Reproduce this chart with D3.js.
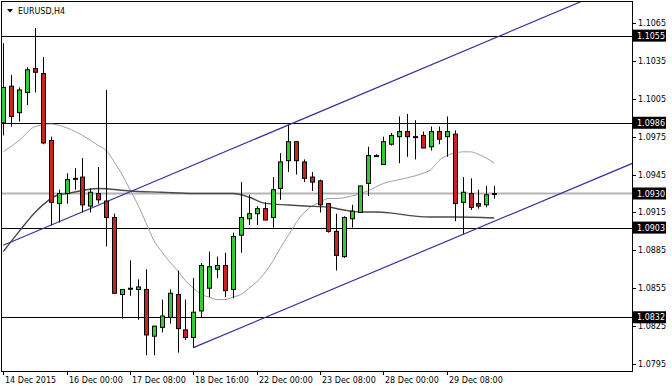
<!DOCTYPE html>
<html><head><meta charset="utf-8">
<script src="https://cdn.jsdelivr.net/npm/d3@7"></script>
<style>
html,body{margin:0;padding:0;background:#fff;}
svg{display:block;font-family:"DejaVu Sans",Tahoma,sans-serif;}
</style></head>
<body><svg id="c" width="672" height="389"></svg>
<script>
// ---- data (EURUSD H4) ----
const openP  = [1.0986,1.1015,1.0994,1.1010,1.1029,1.1025,1.0972,1.0922,1.0930,1.0942,1.0943,1.0920,1.0930,1.0924,1.0911,1.0850,1.0855,1.0854,1.0854,1.0817,1.0824,1.0832,1.0850,1.0822,1.0816,1.0837,1.0855,1.0870,1.0873,1.0854,1.0897,1.0910,1.0914,1.0918,1.0911,1.0934,1.0956,1.0971,1.0955,1.0943,1.0940,1.0922,1.0900,1.0880,1.0910,1.0915,1.0938,1.0960,1.0953,1.0969,1.0975,1.0979,1.0975,1.0976,1.0967,1.0979,1.0975,1.0977,1.0923,1.0930,1.0922,1.0921,1.0930];
const highP  = [1.1049,1.1024,1.1014,1.1030,1.1061,1.1038,1.0975,1.0933,1.0946,1.0950,1.0958,1.0934,1.0951,1.1012,1.0914,1.0854,1.0877,1.0862,1.0870,1.0825,1.0846,1.0854,1.0869,1.0846,1.0863,1.0875,1.0884,1.0880,1.0883,1.0899,1.0939,1.0929,1.0920,1.0923,1.0943,1.0962,1.0984,1.0971,1.0957,1.0947,1.0941,1.0922,1.0914,1.0912,1.0921,1.0936,1.0967,1.0961,1.0975,1.0978,1.0991,1.0993,1.0988,1.0979,1.0983,1.0983,1.0991,1.0980,1.0943,1.0942,1.0933,1.0936,1.0936];
const lowP   = [1.0976,1.0983,1.0987,1.1000,1.1010,1.0969,1.0905,1.0907,1.0922,1.0933,1.0915,1.0915,1.0922,1.0888,1.0851,1.0831,1.0849,1.0830,1.0802,1.0802,1.0820,1.0827,1.0804,1.0814,1.0808,1.0832,1.0848,1.0863,1.0848,1.0847,1.0883,1.0905,1.0905,1.0909,1.0903,1.0925,1.0947,1.0945,1.0939,1.0932,1.0915,1.0899,1.0869,1.0879,1.0903,1.0915,1.0928,1.0959,1.0953,1.0968,1.0954,1.0959,1.0957,1.0966,1.0964,1.0969,1.0959,1.0908,1.0898,1.0917,1.0918,1.0919,1.0926];
const closeP = [1.1014,1.0991,1.1012,1.1028,1.1026,1.0970,1.0923,1.0930,1.0941,1.0942,1.0921,1.0931,1.0925,1.0911,1.0851,1.0854,1.0855,1.0856,1.0818,1.0825,1.0833,1.0851,1.0823,1.0816,1.0836,1.0873,1.0872,1.0873,1.0853,1.0896,1.0911,1.0914,1.0918,1.0909,1.0933,1.0955,1.0971,1.0956,1.0942,1.0939,1.0921,1.0900,1.0881,1.0911,1.0916,1.0936,1.0960,1.0960,1.0971,1.0976,1.0979,1.0975,1.0975,1.0966,1.0979,1.0973,1.0979,1.0922,1.0931,1.0919,1.0920,1.0929,1.0930];

const fastMaBars = [0,2,4,6,8,10,12,13,14,15,16,17,18,19,20,21,22,23,24,25,26,27,28,29,30,31,32,33,34,35,36,37,38,39,40,41,42,44,46,48,50,52,53,54,55,56,57,58,59,60,61,62];
const fastMaVals = [1.0963,1.0972,1.0983,1.0985,1.0982,1.0976,1.0968,1.0964,1.0955,1.0945,1.0933,1.0921,1.0907,1.0893,1.0884,1.0876,1.0869,1.0861,1.0855,1.0850,1.0848,1.0846,1.0846,1.0848,1.0850,1.0855,1.0860,1.0867,1.0876,1.0887,1.0897,1.0907,1.0915,1.0920,1.0923,1.0926,1.0926,1.0928,1.0932,1.0938,1.0941,1.0944,1.0946,1.0949,1.0956,1.0960,1.0962,1.0963,1.0963,1.0961,1.0958,1.0954];

const slowMaBars = [0,2,4,5,6,7,8,12,16,20,24,26,29,31,33,36,38,41,43,45,47,49,52,54,57,62];
const slowMaVals = [1.0884,1.0900,1.0915,1.0921,1.0926,1.0929,1.0930,1.0934,1.0932,1.0931,1.0930,1.0930,1.0930,1.09272,1.09224,1.09209,1.09201,1.09193,1.09169,1.09153,1.09153,1.09145,1.09121,1.09114,1.09114,1.09106];

const levels = [1.1055, 1.0986, 1.0903, 1.0832];
const currentPrice = 1.0930;
const priceTicks = [1.1065,1.1035,1.1005,1.0975,1.0945,1.0915,1.0885,1.0855,1.0825,1.0795];

const timeTickBars = [0,8,16,24,32,40,48,56];
const timeTickLabels = ["14 Dec 2015","16 Dec 00:00","17 Dec 08:00","18 Dec 16:00","22 Dec 00:00","23 Dec 08:00","28 Dec 00:00","29 Dec 08:00"];

// channel: lower line anchored on two points, upper parallel line anchored on two points
const lowerChannelBars = [24, 62];
const lowerChannelVals = [1.0808, 1.0908];
const upperChannelBars = [0, 62];
const upperChannelVals = [1.0889, 1.1053];

const title = "EURUSD,H4";

// ---- layout ----
const svg = d3.select("#c");
const L = 1, R = 632, T = 1, B = 371;
const x = d3.scaleLinear().domain([0, 62]).range([3.3, 494.3]);
const y = d3.scaleLinear().domain([1.0795, 1.1065]).range([364, 23]);

svg.append("defs").append("clipPath").attr("id","clip")
  .append("rect").attr("x",L).attr("y",T).attr("width",R-L).attr("height",B-T);

const plot = svg.append("g").attr("clip-path","url(#clip)");

// horizontal levels
plot.selectAll("line.lev").data(levels).enter().append("line")
  .attr("x1",L).attr("x2",R).attr("y1",d=>Math.round(y(d))+0.5).attr("y2",d=>Math.round(y(d))+0.5)
  .attr("stroke","#000").attr("stroke-width",1);

// current price line
plot.append("line").attr("x1",L).attr("x2",R)
  .attr("y1",y(currentPrice)).attr("y2",y(currentPrice))
  .attr("stroke","#b4b4b4").attr("stroke-width",2);

// moving averages
const lineGen = d3.line().x(d=>x(d[0])).y(d=>y(d[1])).curve(d3.curveMonotoneX);
plot.append("path").datum(fastMaBars.map((b,i)=>[b,fastMaVals[i]]))
  .attr("d",lineGen).attr("fill","none").attr("stroke","#a0a0a0").attr("stroke-width",1);
plot.append("path").datum(slowMaBars.map((b,i)=>[b,slowMaVals[i]]))
  .attr("d",lineGen).attr("fill","none").attr("stroke","#4a4a4a").attr("stroke-width",1.4);

// channel lines (rays)
function ray(bars, vals, extendLeft) {
  const slope = (vals[1]-vals[0])/(bars[1]-bars[0]);
  const b0 = bars[0], b1 = bars[0] + 200;
  return [[x(b0), y(vals[0])], [x(b1), y(vals[0] + slope*(b1-b0))]];
}
[[lowerChannelBars,lowerChannelVals],[upperChannelBars,upperChannelVals]].forEach(([b,v])=>{
  const p = ray(b,v);
  plot.append("line").attr("x1",p[0][0]).attr("y1",p[0][1]).attr("x2",p[1][0]).attr("y2",p[1][1])
    .attr("stroke","#33339a").attr("stroke-width",1.2);
});

// candles
const bars = openP.map((o,i)=>({i,o,h:highP[i],l:lowP[i],c:closeP[i]}));
const cg = plot.selectAll("g.candle").data(bars).enter().append("g");
cg.append("line")
  .attr("x1",d=>Math.round(x(d.i))+0.5).attr("x2",d=>Math.round(x(d.i))+0.5)
  .attr("y1",d=>y(d.h)).attr("y2",d=>y(d.l)).attr("stroke","#000").attr("stroke-width",1);
cg.append("rect")
  .attr("x",d=>Math.round(x(d.i))-2+0.5)
  .attr("width",4)
  .attr("y",d=>Math.min(y(d.o),y(d.c)))
  .attr("height",d=>Math.max(1,Math.abs(y(d.o)-y(d.c))))
  .attr("fill",d=>d.c>d.o?"#33cc33":(d.c<d.o?"#cc2222":"#000"))
  .attr("stroke","#000").attr("stroke-width",1);

// frame
svg.append("rect").attr("x",L+0.5).attr("y",T+0.5).attr("width",R-L).attr("height",B-T)
  .attr("fill","none").attr("stroke","#000").attr("stroke-width",1);

// right axis
const ax = svg.append("g");
ax.selectAll("line.t").data(priceTicks).enter().append("line")
  .attr("x1",R).attr("x2",R+4).attr("y1",d=>Math.round(y(d))+0.5).attr("y2",d=>Math.round(y(d))+0.5)
  .attr("stroke","#000");
ax.selectAll("text.t").data(priceTicks).enter().append("text")
  .attr("x",R+6).attr("y",d=>y(d)+3).attr("font-size","8px").attr("fill","#000").text(d=>d.toFixed(4));

const hl = levels.concat([currentPrice]);
const hg = ax.selectAll("g.h").data(hl).enter().append("g");
hg.append("rect").attr("x",R+1).attr("width",33).attr("y",d=>y(d)-6).attr("height",12).attr("fill","#000");
hg.append("text").attr("x",R+5).attr("y",d=>y(d)+3).attr("font-size","8px").attr("fill","#fff").text(d=>d.toFixed(4));

// bottom axis
const bx = svg.append("g");
timeTickBars.forEach((b,k)=>{
  const xx = Math.round(x(b))+0.5;
  bx.append("line").attr("x1",xx).attr("x2",xx).attr("y1",B).attr("y2",B+4).attr("stroke","#000");
  bx.append("text").attr("x",xx+1.5).attr("y",B+12).attr("font-size","8px").attr("fill","#000").text(timeTickLabels[k]);
});

// title
svg.append("path").attr("d","M7,9 L13,9 L10,12.5 Z").attr("fill","#000");
svg.append("text").attr("x",18).attr("y",14).attr("font-size","8px").attr("fill","#000").text(title);
</script></body></html>
